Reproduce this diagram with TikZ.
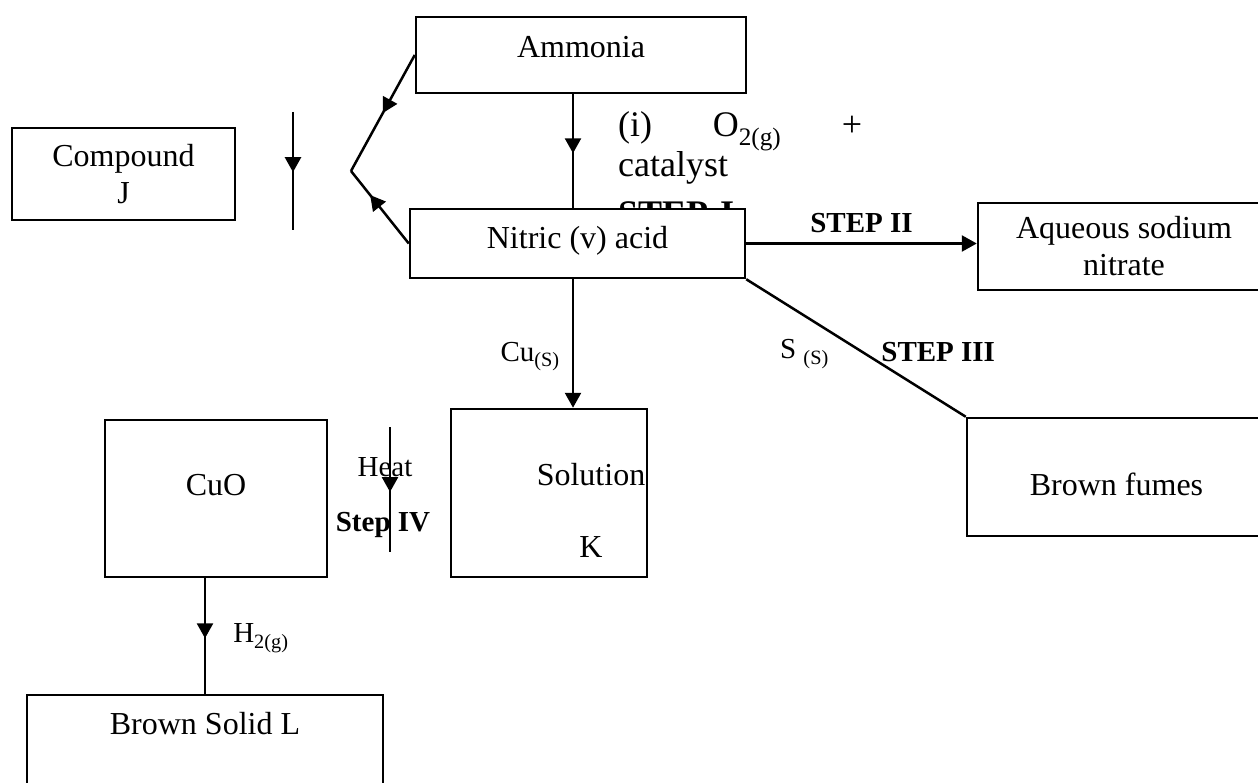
\documentclass[tikz,border=0pt]{standalone}
\usepackage{fontspec}
\setmainfont{Liberation Serif}
\usepackage{tikz}
\usetikzlibrary{arrows.meta,decorations.markings}
\newcommand{\boxtxt}{\fontsize{32}{37}\selectfont}
\newcommand{\lbltxt}{\fontsize{29}{34}\selectfont}
\newcommand{\partxt}{\fontsize{36}{40}\selectfont}
\tikzstyle{line} = [draw, -{Triangle[length=15pt,width=16pt]}, line width=2.5pt]
\tikzset{midarrow/.style={draw, line width=2.5pt, postaction={decorate},
  decoration={markings, mark=at position #1 with {\arrow{Triangle[length=15pt,width=16pt]}}}}}

\begin{document}
\begin{tikzpicture}[x=1pt,y=-1pt]
\tikzstyle{box} = [draw, line width=2.5pt, fill=white, inner sep=0pt, font=\boxtxt]
\tikzstyle{ann} = [inner sep=0pt, font=\lbltxt]
\clip (0,0) rectangle (1258,783);
\coordinate (cx) at (573,0);
\coordinate (vtx) at (351,171);
\coordinate (j1) at (293,112);
\coordinate (j2) at (293,230);
\coordinate (h1) at (390,427);
\coordinate (h2) at (390,552);

\node[box, minimum width=330pt, minimum height=76pt, text depth=16pt] (amm) at (581,55) {Ammonia};
\node[anchor=north west, inner sep=0pt, text width=244pt, align=left, font=\partxt] (cond) at (618,111)
  {(i)\hfill O\textsubscript{2(g)}\hfill +\\catalyst\\[9pt]\textbf{STEP I}};
\node[box, minimum width=335pt, minimum height=69pt, text depth=13pt] (nit) at (577.5,243.5) {Nitric (v) acid};
\node[box, minimum width=223pt, minimum height=92pt, align=center] (cmpj) at (123.5,174) {Compound\\J};
\node[box, minimum width=292pt, minimum height=87pt, align=center] (aq) at (1124,246.5) {Aqueous sodium\\nitrate};
\node[box, minimum width=299pt, minimum height=118pt, text height=37pt, text depth=0pt] (bf) at (1116.5,477) {Brown fumes};
\node[box, minimum width=196pt, minimum height=168pt,
  label={[font=\boxtxt, align=center, xshift=42pt, yshift=-17pt]center:Solution\\[35pt]K}] (sol) at (549,493) {};
\node[box, minimum width=222pt, minimum height=157pt, text depth=27pt] (cuo) at (216,498.5) {CuO};
\node[box, minimum width=356pt, minimum height=105pt, text depth=49pt] (bsl) at (205,747.5) {Brown Solid L};

\draw[midarrow=0.52] (amm.south -| cx) -- (nit.north -| cx);
\draw[midarrow=0.5] (amm.west) -- (vtx);
\draw[midarrow=0.67] (nit.west) -- (vtx);
\draw[midarrow=0.51] (j1) -- (j2);
\path[line] (nit.south -| cx) -- node[ann, left=12pt, pos=0.6] (cu) {Cu\textsubscript{(S)}} (sol.north -| cx);
\path[line] (nit.east) -- node[ann, above=9pt, font=\lbltxt\bfseries] (s2) {STEP II} (nit.east -| aq.west);
\draw[line width=2.5pt] (nit.south east)
  -- node[ann, inner sep=4pt, pos=0.4, anchor=north east] (s3) {S \textsubscript{(S)}}
     node[ann, pos=0.61, anchor=south west, font=\lbltxt\bfseries] (st3) {STEP III} (bf.north west);
\draw[midarrow=0.52] (h1) -- node[ann, pos=0.32, xshift=-5pt] (heat) {Heat}
  node[ann, pos=0.78, xshift=-7pt, font=\lbltxt\bfseries] (s4) {Step IV} (h2);
\draw[midarrow=0.52] (cuo.south -| bsl.north) -- node[ann, right=27pt, pos=0.52] (h2g) {H\textsubscript{2(g)}} (bsl.north);
\end{tikzpicture}
\end{document}
